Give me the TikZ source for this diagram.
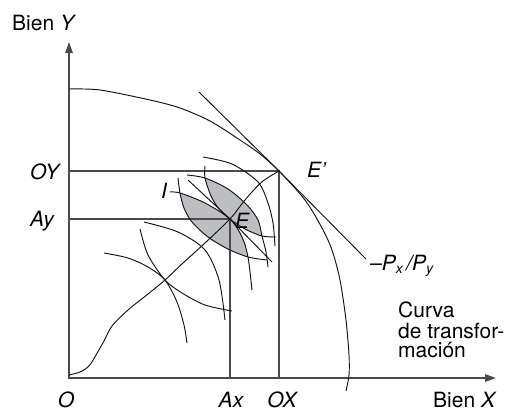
\documentclass[tikz,border=0pt]{standalone}
\usepackage{fontspec}
\setmainfont{TeX Gyre Heros}
\usetikzlibrary{arrows.meta}
\definecolor{lensgray}{RGB}{188,190,193}
\definecolor{axisgray}{RGB}{75,75,75}
\begin{document}
\begin{tikzpicture}[x=1pt,y=-1pt,
  axis/.style={line width=1.4pt, draw=axisgray},
  guide/.style={line width=1.2pt, draw=axisgray},
  curve/.style={line width=0.95pt, draw=black!92},
  lbl/.style={font=\fontsize{21}{24}\selectfont\itshape, inner sep=0pt, anchor=base},
  txt/.style={font=\fontsize{21}{24}\selectfont, inner sep=0pt, anchor=base west}]
\useasboundingbox (0,0) rectangle (515,413);
% key points
\coordinate (O) at (69,378);
\coordinate (Ytip) at (69,42);
\coordinate (Xtip) at (496,378);
\coordinate (Ep) at (279,171);
\coordinate (E) at (230,219);
\coordinate (OYp) at (69,171);
\coordinate (Ayp) at (69,219);
\coordinate (Axp) at (230,378);
\coordinate (OXp) at (279,378);
\coordinate (Tg1) at (199,92);
\coordinate (Tg2) at (366,259);
\coordinate (Pl1) at (188,180);
\coordinate (Pl2) at (272,262);
% lens fills
\begin{scope}
 \clip plot[smooth] coordinates {(170,192) (180,193) (205,203) (230,219) (242,237) (248,257) (252,290)} -- (252,413) -- (0,413) -- (0,192) -- cycle;
 \fill[lensgray] plot[smooth] coordinates {(178,178) (180,193) (184,208) (192,222) (208,237) (228,249) (248,257) (267,260)} -- (515,260) -- (515,0) -- (178,0) -- cycle;
\end{scope}
\begin{scope}
 \clip plot[smooth] coordinates {(187,175) (205,178) (228,189) (247,205) (258,220) (262,236) (266,252) (268,267)} -- (268,413) -- (0,413) -- (0,175) -- cycle;
 \fill[lensgray] plot[smooth] coordinates {(205,166) (205,178) (211,196) (219,209) (230,219) (245,229) (262,236) (276,237)} -- (515,237) -- (515,0) -- (205,0) -- cycle;
\end{scope}
% guide lines
\draw[guide] (OYp) -- (Ep) -- (OXp);
\draw[guide] (Ayp) -- (E) -- (Axp);
% axes
\draw[axis, {Triangle[length=11pt,width=7.5pt]}-{Triangle[length=11pt,width=7.5pt]}] (Ytip) -- (O) -- (Xtip);
% transformation curve
\draw[curve] plot[smooth] coordinates {(69,89) (100,90) (150,100) (180,108) (210,121) (240,140) (260,154) (279,171) (305,200) (322,228) (332,250) (340,280) (346,320) (349,355) (349,375) (346,391)};
% tangent line
\draw[curve] (Tg1) -- (Ep) -- (Tg2);
% contract curve
\draw[curve] plot[smooth] coordinates {(69,375) (80,372) (89,366) (96,355) (104,341) (112,326) (128,310) (148,294) (165,280) (183,263) (205,243) (230,219) (241,205) (251,193) (263,181) (279,171)};
% price line through E
\draw[curve] (Pl1) -- (E) -- (Pl2);
% indifference curves
\draw[curve] plot[smooth] coordinates {(170,192) (180,193) (205,203) (230,219) (242,237) (248,257) (252,290)};
\draw[curve] plot[smooth] coordinates {(178,178) (180,193) (184,208) (192,222) (208,237) (228,249) (248,257) (267,260)};
\draw[curve] plot[smooth] coordinates {(187,175) (205,178) (228,189) (247,205) (258,220) (262,236) (266,252) (268,267)};
\draw[curve] plot[smooth] coordinates {(205,166) (205,178) (211,196) (219,209) (230,219) (245,229) (262,236) (276,237)};
\draw[curve] plot[smooth] coordinates {(203,157) (232,164) (258,182) (268,203) (273,223) (275,246)};
\draw[curve] plot[smooth] coordinates {(144,222) (178,232) (205,250) (219,280) (225,320)};
\draw[curve] plot[smooth] coordinates {(104,253) (128,258) (148,267) (165,280) (177,302) (184,325) (187,343)};
\draw[curve] plot[smooth] coordinates {(140,229) (148,255) (165,280) (182,293) (205,305) (232,311)};
% labels
\node[txt] (lBY) at (12,30) {Bien \textit{Y}};
\node[txt] (lBX) at (433,407) {Bien \textit{X}};
\node[lbl] (lO) at (66,407) {O};
\node[lbl] (lAx) at (231,407) {Ax};
\node[lbl] (lOX) at (282,407) {OX};
\node[lbl, anchor=base west] (lOY) at (30,179) {OY};
\node[lbl, anchor=base west] (lAy) at (30,226) {Ay};
\node[lbl, anchor=base west] (lEp) at (307,177) {E’};
\node[lbl, anchor=base west] (lE) at (235,228) {E};
\node[lbl] (lI) at (164,198) {I};
\node[lbl, anchor=base west] (lP) at (370,270) {\textendash P\raisebox{-0.35ex}{\fontsize{14}{14}\selectfont x}\,/P\raisebox{-0.35ex}{\fontsize{14}{14}\selectfont y}};
\node[txt] (lC1) at (398,317) {Curva};
\node[txt] (lC2) at (398,338) {de transfor-};
\node[txt] (lC3) at (398,357) {mación};
\end{tikzpicture}
\end{document}
